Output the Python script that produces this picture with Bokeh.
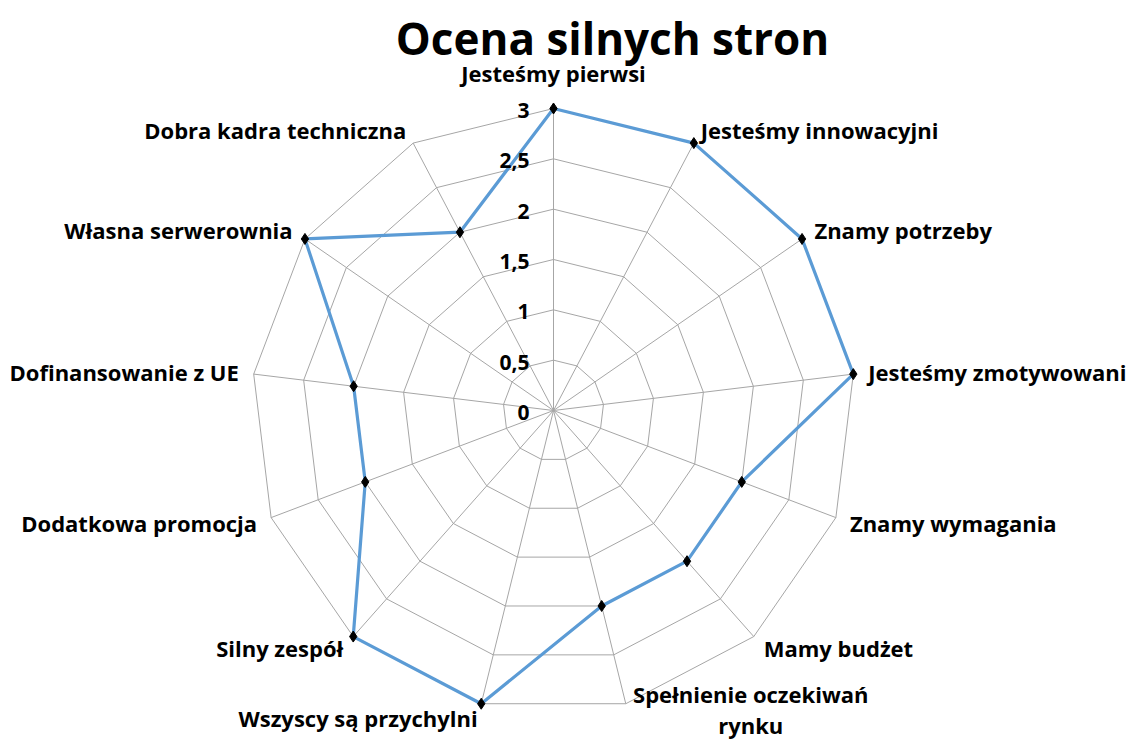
import numpy as np
from bokeh.plotting import figure
from bokeh.models import Range1d, ColumnDataSource
from bokeh.embed import file_html
from bokeh.resources import INLINE
from bokeh.core.properties import value

title_text = "Ocena silnych stron"
categories = ["Jesteśmy pierwsi", "Jesteśmy innowacyjni", "Znamy potrzeby",
              "Jesteśmy zmotywowani", "Znamy wymagania", "Mamy budżet",
              "Spełnienie oczekiwań\nrynku", "Wszyscy są przychylni", "Silny zespół",
              "Dodatkowa promocja", "Dofinansowanie z UE", "Własna serwerownia",
              "Dobra kadra techniczna"]
values = [3, 3, 3, 3, 2, 2, 2, 3, 3, 2, 2, 3, 2]
tick_values = [0, 0.5, 1, 1.5, 2, 2.5, 3]
tick_labels = ["0", "0,5", "1", "1,5", "2", "2,5", "3"]

FONT = "Open Sans"
W, H = 1134, 743
CX, CY = 553, 410          # centre in figure pixels
S = 100.67                 # pixels per value unit
RMAX = max(tick_values)

p = figure(width=W, height=H, output_backend="svg", toolbar_location=None,
           x_range=Range1d(-CX / S, (W - CX) / S), y_range=Range1d(-(H - CY) / S, CY / S),
           min_border=0, outline_line_color=None)
p.axis.visible = False
p.grid.visible = False

n = len(categories)
ang = np.arange(n) * 2 * np.pi / n
sx, cy = np.sin(ang), np.cos(ang)

# rings
grid_col = "#A6A6A6"
rings_x = [list(r * np.append(sx, sx[0])) for r in tick_values[1:]]
rings_y = [list(r * np.append(cy, cy[0])) for r in tick_values[1:]]
p.multi_line(rings_x, rings_y, line_color=grid_col, line_width=1)
# spokes
p.segment(x0=np.zeros(n), y0=np.zeros(n), x1=RMAX * sx, y1=RMAX * cy,
          line_color=grid_col, line_width=1)

# series
v = np.array(values, dtype=float)
px, py = v * sx, v * cy
p.line(np.append(px, px[0]), np.append(py, py[0]), line_color="#5B9BD5", line_width=3.2)
p.scatter(px, py, marker="diamond", size=11, fill_color="black", line_color="black")

# tick labels
p.text(x=[-24 / S] * len(tick_values), y=[t - 2 / S for t in tick_values], text=tick_labels,
       text_align="right", text_baseline="middle", text_font=value(FONT),
       text_font_style="bold", text_font_size="21px", text_color="black")

# category labels
lx, ly, la, lb, lt = [], [], [], [], []
multi = []
for i, name in enumerate(categories):
    bx, by = RMAX * sx[i], RMAX * cy[i]
    if "\n" in name:
        multi.append((bx + 125 / S, by + 25 / S, name))
        continue
    if abs(sx[i]) < 0.05:
        lx.append(bx); ly.append(by + 20 / S); la.append("center"); lb.append("bottom")
    else:
        lx.append(bx + 15 / S * sx[i]); ly.append(by + 15 / S * cy[i])
        la.append("left" if sx[i] > 0 else "right"); lb.append("middle")
    lt.append(name)
src = ColumnDataSource(dict(x=lx, y=ly, text=lt, align=la, base=lb))
p.text(x="x", y="y", text="text", text_align="align", text_baseline="base", source=src,
       text_font=value(FONT), text_font_style="bold", text_font_size="22px", text_color="black")
for (mx, my, name) in multi:
    p.text(x=[mx], y=[my], text=[name], text_align="center", text_baseline="top",
           text_font=value(FONT), text_font_style="bold", text_font_size="22px",
           text_color="black", text_line_height=1.05)

# title
p.text(x=[(612 - CX) / S], y=[(CY - 37) / S], text=[title_text], text_align="center",
       text_baseline="middle", text_font=value(FONT), text_font_style="bold",
       text_font_size="44px", text_color="black")

open("out.html", "w").write(file_html(p, INLINE))
